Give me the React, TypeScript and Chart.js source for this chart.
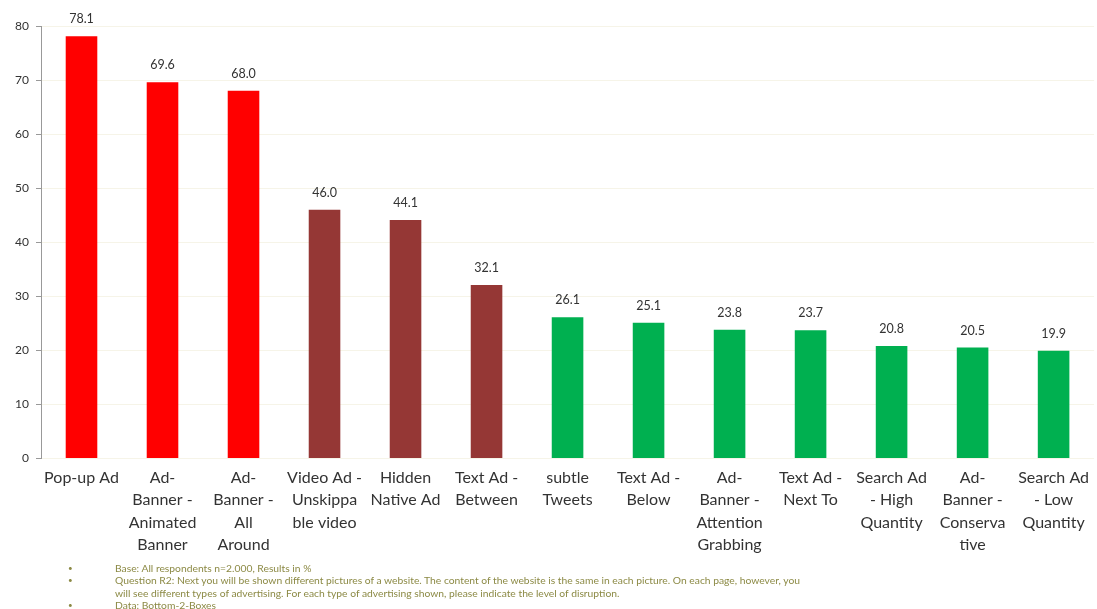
import React, { useEffect, useRef } from "react";
import { Chart, registerables } from "chart.js";

Chart.register(...registerables);

const categories: string[][] = [
  ["Pop-up Ad"],
  ["Ad-", "Banner -", "Animated", "Banner"],
  ["Ad-", "Banner -", "All", "Around"],
  ["Video Ad -", "Unskippa", "ble video"],
  ["Hidden", "Native Ad"],
  ["Text Ad -", "Between"],
  ["subtle", "Tweets"],
  ["Text Ad -", "Below"],
  ["Ad-", "Banner -", "Attention", "Grabbing"],
  ["Text Ad -", "Next To"],
  ["Search Ad", "- High", "Quantity"],
  ["Ad-", "Banner -", "Conserva", "tive"],
  ["Search Ad", "- Low", "Quantity"],
];

const values: number[] = [78.1, 69.6, 68.0, 46.0, 44.1, 32.1, 26.1, 25.1, 23.8, 23.7, 20.8, 20.5, 19.9];

const barColors: string[] = [
  "#FF0000", "#FF0000", "#FF0000",
  "#953735", "#953735", "#953735",
  "#00B050", "#00B050", "#00B050", "#00B050", "#00B050", "#00B050", "#00B050",
];

const yTicks: number[] = [0, 10, 20, 30, 40, 50, 60, 70, 80];

const footnotes: string[] = [
  "Base: All respondents n=2.000, Results in %",
  "Question R2: Next you will be shown different pictures of a website. The content of the website is the same in each picture. On each page, however, you|will see different types of advertising. For each type of advertising shown, please indicate the level of disruption.",
  "Data: Bottom-2-Boxes",
];

const FONT = "Lato, 'Open Sans', sans-serif";

const valueLabelPlugin = {
  id: "valueLabels",
  afterDatasetsDraw(chart: any) {
    const ctx = chart.ctx;
    const meta = chart.getDatasetMeta(0);
    ctx.save();
    ctx.font = `12.5px ${FONT}`;
    ctx.fillStyle = "#333333";
    ctx.textAlign = "center";
    ctx.textBaseline = "middle";
    meta.data.forEach((bar: any, i: number) => {
      const v = chart.data.datasets[0].data[i] as number;
      ctx.fillText(v.toFixed(1), bar.x, bar.y - 17);
    });
    ctx.restore();
  },
};

export default function App() {
  const ref = useRef<HTMLCanvasElement | null>(null);

  useEffect(() => {
    if (!ref.current) return;
    const chart = new Chart(ref.current, {
      type: "bar",
      data: {
        labels: categories,
        datasets: [
          {
            data: values,
            backgroundColor: barColors,
            barPercentage: 0.78,
            categoryPercentage: 0.5,
          },
        ],
      },
      options: {
        animation: false,
        responsive: false,
        maintainAspectRatio: false,
        layout: { padding: { top: 26, right: 0, left: 0, bottom: 0 } },
        plugins: {
          legend: { display: false },
          tooltip: { enabled: false },
        },
        scales: {
          x: {
            grid: { display: false, drawTicks: false },
            border: { display: false },
            ticks: {
              color: "#333333",
              font: { family: FONT, size: 16, lineHeight: 1.4 },
              maxRotation: 0,
              minRotation: 0,
              autoSkip: false,
              padding: 8,
            },
          },
          y: {
            min: 0,
            max: 80,
            afterFit: (scale: any) => {
              scale.width = 41;
            },
            afterBuildTicks: (scale: any) => {
              scale.ticks = yTicks.map((v) => ({ value: v }));
            },
            grid: {
              color: "#f6f4e8",
              tickLength: 5,
              tickColor: "#999999",
            },
            border: { display: true, color: "#999999", width: 1 },
            ticks: {
              color: "#333333",
              font: { family: FONT, size: 12 },
              padding: 7,
            },
          },
        },
      },
      plugins: [valueLabelPlugin],
    });
    return () => chart.destroy();
  }, []);

  return (
    <div style={{ position: "absolute", left: 0, top: 0, width: 1097, height: 609, background: "#fff", overflow: "hidden" }}>
      <canvas ref={ref} width={1097} height={564} style={{ position: "absolute", left: 0, top: 0 }} />
      <div
        style={{
          position: "absolute",
          left: 68,
          top: 562,
          fontFamily: FONT,
          fontSize: 10.3,
          lineHeight: "12.3px",
          color: "#8c8a45",
        }}
      >
        {footnotes.map((f, i) => {
          const lines = f.split("|");
          return (
            <div key={i} style={{ display: "flex" }}>
              <span style={{ width: 47, flex: "none", fontSize: 8 }}>•</span>
              <div>
                {lines.map((l, j) => (
                  <div key={j} style={{ whiteSpace: "nowrap" }}>{l}</div>
                ))}
              </div>
            </div>
          );
        })}
      </div>
    </div>
  );
}
